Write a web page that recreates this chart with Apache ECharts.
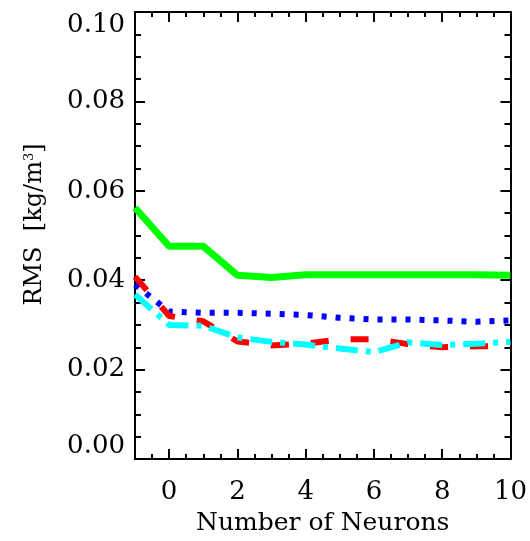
<!DOCTYPE html>
<html>
<head>
<meta charset="utf-8">
<script src="https://cdn.jsdelivr.net/npm/echarts@6/dist/echarts.min.js"></script>
<style>
html,body{margin:0;padding:0;background:#fff;}
#chart{width:530px;height:541px;}
</style>
</head>
<body>
<div id="chart"></div>
<script>
// Data
const neurons = [-1, 0, 1, 2, 3, 4, 5, 6, 7, 8, 9, 10];
const greenRMS = [0.0562, 0.0476, 0.0476, 0.0411, 0.0406, 0.0412, 0.0412, 0.0412, 0.0412, 0.0412, 0.0412, 0.0411];
const blueRMS  = [0.0390, 0.0330, 0.0327, 0.0327, 0.0325, 0.0322, 0.0316, 0.0312, 0.0312, 0.0310, 0.0307, 0.0310];
const redRMS   = [0.0408, 0.0320, 0.0308, 0.0263, 0.0254, 0.0258, 0.0268, 0.0268, 0.0257, 0.0250, 0.0252, 0.0253];
const cyanRMS  = [0.0368, 0.0300, 0.0298, 0.0272, 0.0262, 0.0256, 0.0247, 0.0239, 0.0261, 0.0255, 0.0258, 0.0262];
const xTickLabels = [0, 2, 4, 6, 8, 10];
const xMinorTicks = [-0.5, 0, 0.5, 1, 1.5, 2, 2.5, 3, 3.5, 4, 4.5, 5, 5.5, 6, 6.5, 7, 7.5, 8, 8.5, 9, 9.5];

const FONT = 'DejaVu Serif';
const black = '#000';

function pairs(ys) { return neurons.map((x, i) => [x, ys[i]]); }

const lineAx = { show: true, onZero: false, lineStyle: { color: black, width: 2 } };

function xAx(pos, major, withLabels) {
  const ax = {
    type: 'value', min: -1, max: 10, position: pos,
    axisLine: lineAx,
    axisTick: { show: true, inside: true, length: major ? 10 : 5, lineStyle: { color: black, width: 2 },
                customValues: major ? xTickLabels : xMinorTicks },
    axisLabel: { show: false },
    splitLine: { show: false }
  };
  if (withLabels) {
    ax.axisLabel = { show: true, customValues: xTickLabels, fontFamily: FONT, fontSize: 26, color: black, margin: 20 };
    ax.name = 'Number of Neurons';
    ax.nameLocation = 'middle';
    ax.nameGap = 52;
    ax.nameTextStyle = { fontFamily: FONT, fontSize: 25, color: black };
  }
  return ax;
}

function yAx(pos, withLabels) {
  const ax = {
    type: 'value', min: 0, max: 0.1, interval: 0.02, position: pos,
    axisLine: lineAx,
    axisTick: { show: true, inside: true, length: 10, lineStyle: { color: black, width: 2 } },
    minorTick: { show: true, splitNumber: 4, length: 6, lineStyle: { color: black, width: 2 } },
    axisLabel: { show: false },
    splitLine: { show: false }, minorSplitLine: { show: false }
  };
  if (withLabels) {
    ax.axisLabel = { show: true, fontFamily: FONT, fontSize: 26, color: black, margin: 10,
      formatter: v => v.toFixed(2),
      verticalAlignMinLabel: 'bottom', verticalAlignMaxLabel: 'top' };
    ax.name = '{a|RMS  [kg/m}{s|3}{a|]}';
    ax.nameLocation = 'middle';
    ax.nameGap = 88;
    ax.nameTextStyle = { fontFamily: FONT, fontSize: 24, color: black, padding: [0, 0, 0, 22],
      rich: { a: { fontFamily: FONT, fontSize: 24, color: black },
              s: { fontFamily: FONT, fontSize: 13, color: black, verticalAlign: 'top' } } };
  }
  return ax;
}

const chart = echarts.init(document.getElementById('chart'), null, { renderer: 'canvas' });
chart.setOption({
  animation: false,
  backgroundColor: '#fff',
  grid: { left: 135, right: 17, top: 12, bottom: 81, containLabel: false },
  xAxis: [xAx('bottom', false, false), xAx('bottom', true, true), xAx('top', false, false), xAx('top', true, false)],
  yAxis: [yAx('left', true), yAx('right', false)],
  series: [
    { type: 'line', data: pairs(greenRMS), showSymbol: false, symbol: 'none',
      lineStyle: { color: '#00ff00', width: 7, cap: 'butt' } },
    { type: 'line', data: pairs(blueRMS), showSymbol: false, symbol: 'none',
      lineStyle: { color: '#0000ff', width: 6, type: [5, 9], cap: 'butt' } },
    { type: 'line', data: pairs(redRMS), showSymbol: false, symbol: 'none',
      lineStyle: { color: '#ff0000', width: 6, type: [18, 22], cap: 'butt' } },
    { type: 'line', data: pairs(cyanRMS), showSymbol: false, symbol: 'none',
      lineStyle: { color: '#00ffff', width: 6, type: [22, 8, 5, 8], cap: 'butt' } }
  ]
});
</script>
</body>
</html>
